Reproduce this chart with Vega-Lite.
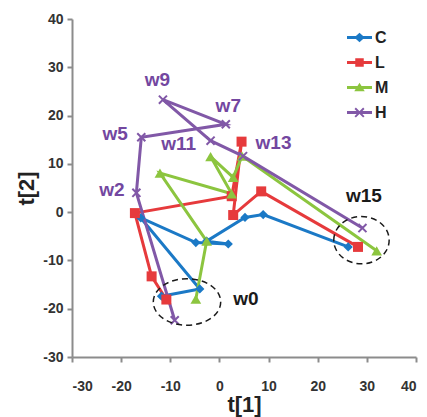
{
  "$schema": "https://vega.github.io/schema/vega-lite/v6.json",
  "autosize": "none",
  "padding": {"left": 72, "top": 19, "right": 11, "bottom": 60},
  "width": 344,
  "height": 338,
  "background": "white",
  "config": {
    "view": {"stroke": null},
    "axis": {
      "grid": false,
      "domainColor": "#8c8c8c",
      "domainWidth": 2,
      "tickColor": "#8c8c8c",
      "tickWidth": 2,
      "tickSize": 5,
      "labelFont": "Liberation Sans",
      "labelFontWeight": "bold",
      "labelFontSize": 14,
      "labelColor": "#333333",
      "labelExpr": "replace(datum.label, '\u2212', '-')",
      "titleFont": "Liberation Sans",
      "titleFontWeight": "bold",
      "titleFontSize": 22,
      "titleColor": "#222222"
    }
  },
  "datasets": {
    "pts": [
      {"series": "C", "i": 0, "x": -11.8, "y": -17.4},
      {"series": "C", "i": 1, "x": -4.0, "y": -15.9},
      {"series": "C", "i": 2, "x": -16.0, "y": -1.2},
      {"series": "C", "i": 3, "x": -4.8, "y": -6.3},
      {"series": "C", "i": 4, "x": 1.8, "y": -6.6},
      {"series": "C", "i": 5, "x": -2.6, "y": -6.0},
      {"series": "C", "i": 6, "x": 5.2, "y": -1.1},
      {"series": "C", "i": 7, "x": 8.9, "y": -0.5},
      {"series": "C", "i": 8, "x": 26.2, "y": -7.2},
      {"series": "L", "i": 0, "x": -10.8, "y": -18.1},
      {"series": "L", "i": 1, "x": -13.8, "y": -13.3},
      {"series": "L", "i": 2, "x": -17.2, "y": -0.2},
      {"series": "L", "i": 3, "x": 2.5, "y": 3.3},
      {"series": "L", "i": 4, "x": 4.5, "y": 14.6},
      {"series": "L", "i": 5, "x": 2.8, "y": -0.6},
      {"series": "L", "i": 6, "x": 8.5, "y": 4.3},
      {"series": "L", "i": 7, "x": 28.2, "y": -7.2},
      {"series": "M", "i": 0, "x": -4.8, "y": -18.0},
      {"series": "M", "i": 1, "x": -2.6, "y": -6.0},
      {"series": "M", "i": 2, "x": -12.1, "y": 8.1},
      {"series": "M", "i": 3, "x": 2.5, "y": 3.8},
      {"series": "M", "i": 4, "x": -1.8, "y": 11.5},
      {"series": "M", "i": 5, "x": 2.8, "y": 7.2},
      {"series": "M", "i": 6, "x": 4.6, "y": 11.6},
      {"series": "M", "i": 7, "x": 32.0, "y": -8.0},
      {"series": "H", "i": 0, "x": -9.1, "y": -22.4},
      {"series": "H", "i": 1, "x": -16.9, "y": 4.0},
      {"series": "H", "i": 2, "x": -15.9, "y": 15.5},
      {"series": "H", "i": 3, "x": 1.3, "y": 18.2},
      {"series": "H", "i": 4, "x": -11.5, "y": 23.3},
      {"series": "H", "i": 5, "x": -1.8, "y": 14.8},
      {"series": "H", "i": 6, "x": 4.8, "y": 11.6},
      {"series": "H", "i": 7, "x": 29.1, "y": -3.3}
    ]
  },
  "encoding": {
    "x": {"field": "x", "type": "quantitative", "scale": {"domain": [-30, 40], "nice": false}, "axis": {"values": [-30, -20, -10, 0, 10, 20, 30, 40], "title": "t[1]", "labelPadding": 17, "titlePadding": 1}},
    "y": {"field": "y", "type": "quantitative", "scale": {"domain": [-30, 40], "nice": false}, "axis": {"values": [-30, -20, -10, 0, 10, 20, 30, 40], "title": "t[2]", "labelPadding": 4, "titlePadding": 4}}
  },
  "layer": [
    {
      "data": {"name": "pts"},
      "mark": {"type": "point", "filled": true, "size": 0, "opacity": 1},
      "encoding": {
        "color": {"field": "series", "type": "nominal", "scale": {"domain": ["C", "L", "M", "H"], "range": ["#1b79c6", "#e63a3c", "#8cc53f", "#8158a7"]},
          "legend": {"title": null, "orient": "none", "legendX": 275, "legendY": 6, "symbolSize": 625, "labelFont": "Liberation Sans", "labelFontWeight": "bold", "labelFontSize": 16, "labelColor": "#222222", "rowPadding": 4, "labelOffset": 3, "padding": 0, "symbolStrokeWidth": 0}},
        "shape": {"field": "series", "type": "nominal", "scale": {"domain": ["C", "L", "M", "H"], "range": [
          "M-1,-0.12H1V0.12H-1Z M0,-0.38L0.42,0L0,0.38L-0.42,0Z",
          "M-1,-0.12H1V0.12H-1Z M-0.34,-0.34H0.34V0.34H-0.34Z",
          "M-1,-0.12H1V0.12H-1Z M0,-0.38L0.42,0.3H-0.42Z",
          "M-1,-0.12H1V0.12H-1Z M-0.29,-0.4L0.4,0.29L0.29,0.4L-0.4,-0.29Z M0.29,-0.4L0.4,-0.29L-0.29,0.4L-0.4,0.29Z"
        ]},
          "legend": {"title": null, "orient": "none", "legendX": 275, "legendY": 6, "symbolSize": 625, "labelFont": "Liberation Sans", "labelFontWeight": "bold", "labelFontSize": 16, "labelColor": "#222222", "rowPadding": 4, "labelOffset": 3, "padding": 0, "symbolStrokeWidth": 0}}
      }
    },
    {
      "data": {"name": "pts"},
      "mark": {"type": "line", "strokeWidth": 3},
      "encoding": {
        "color": {"field": "series", "type": "nominal", "legend": null},
        "order": {"field": "i", "type": "quantitative"}
      }
    },
    {
      "data": {"name": "pts"},
      "transform": [{"filter": "datum.series === 'C'"}],
      "mark": {"type": "point", "filled": true, "shape": "diamond", "size": 85, "opacity": 1},
      "encoding": {"color": {"field": "series", "type": "nominal", "legend": null}}
    },
    {
      "data": {"name": "pts"},
      "transform": [{"filter": "datum.series === 'L'"}],
      "mark": {"type": "point", "filled": true, "shape": "square", "size": 100, "opacity": 1},
      "encoding": {"color": {"field": "series", "type": "nominal", "legend": null}}
    },
    {
      "data": {"name": "pts"},
      "transform": [{"filter": "datum.series === 'M'"}],
      "mark": {"type": "point", "filled": true, "shape": "triangle-up", "size": 115, "opacity": 1},
      "encoding": {"color": {"field": "series", "type": "nominal", "legend": null}}
    },
    {
      "data": {"name": "pts"},
      "transform": [{"filter": "datum.series === 'H'"}],
      "mark": {"type": "point", "filled": true, "shape": "M-0.7,-1L1,0.7L0.7,1L-1,-0.7Z M0.7,-1L1,-0.7L-0.7,1L-1,0.7Z", "size": 90, "opacity": 1},
      "encoding": {"color": {"field": "series", "type": "nominal", "legend": null}}
    },
    {
      "data": {"values": [{"x": -6.6, "y": -18.6}]},
      "mark": {"type": "point", "filled": false, "shape": "M-1,0A1,0.69,0,1,1,1,0A1,0.69,0,1,1,-1,0Z", "size": 4543, "stroke": "#1a1a1a", "strokeWidth": 1.5, "strokeDash": [6, 4], "opacity": 1}
    },
    {
      "data": {"values": [{"x": 28.9, "y": -5.8}]},
      "mark": {"type": "point", "filled": false, "shape": "M-1,0A1,0.855,0,1,1,1,0A1,0.855,0,1,1,-1,0Z", "size": 3069, "stroke": "#1a1a1a", "strokeWidth": 1.5, "strokeDash": [6, 4], "opacity": 1}
    },
    {
      "data": {"values": [
        {"label": "w9", "x": -12.6, "y": 27.4},
        {"label": "w7", "x": 1.8, "y": 22.0},
        {"label": "w5", "x": -21.2, "y": 16.2},
        {"label": "w11", "x": -8.3, "y": 14.2},
        {"label": "w13", "x": 11.0, "y": 14.4},
        {"label": "w2", "x": -21.9, "y": 4.5}
      ]},
      "mark": {"type": "text", "font": "Liberation Sans", "fontWeight": "bold", "fontSize": 19, "color": "#7347a0", "align": "center", "baseline": "middle"},
      "encoding": {"text": {"field": "label"}}
    },
    {
      "data": {"values": [
        {"label": "w15", "x": 29.4, "y": 3.3},
        {"label": "w0", "x": 5.4, "y": -17.9}
      ]},
      "mark": {"type": "text", "font": "Liberation Sans", "fontWeight": "bold", "fontSize": 19, "color": "#1a1a1a", "align": "center", "baseline": "middle"},
      "encoding": {"text": {"field": "label"}}
    }
  ]
}
